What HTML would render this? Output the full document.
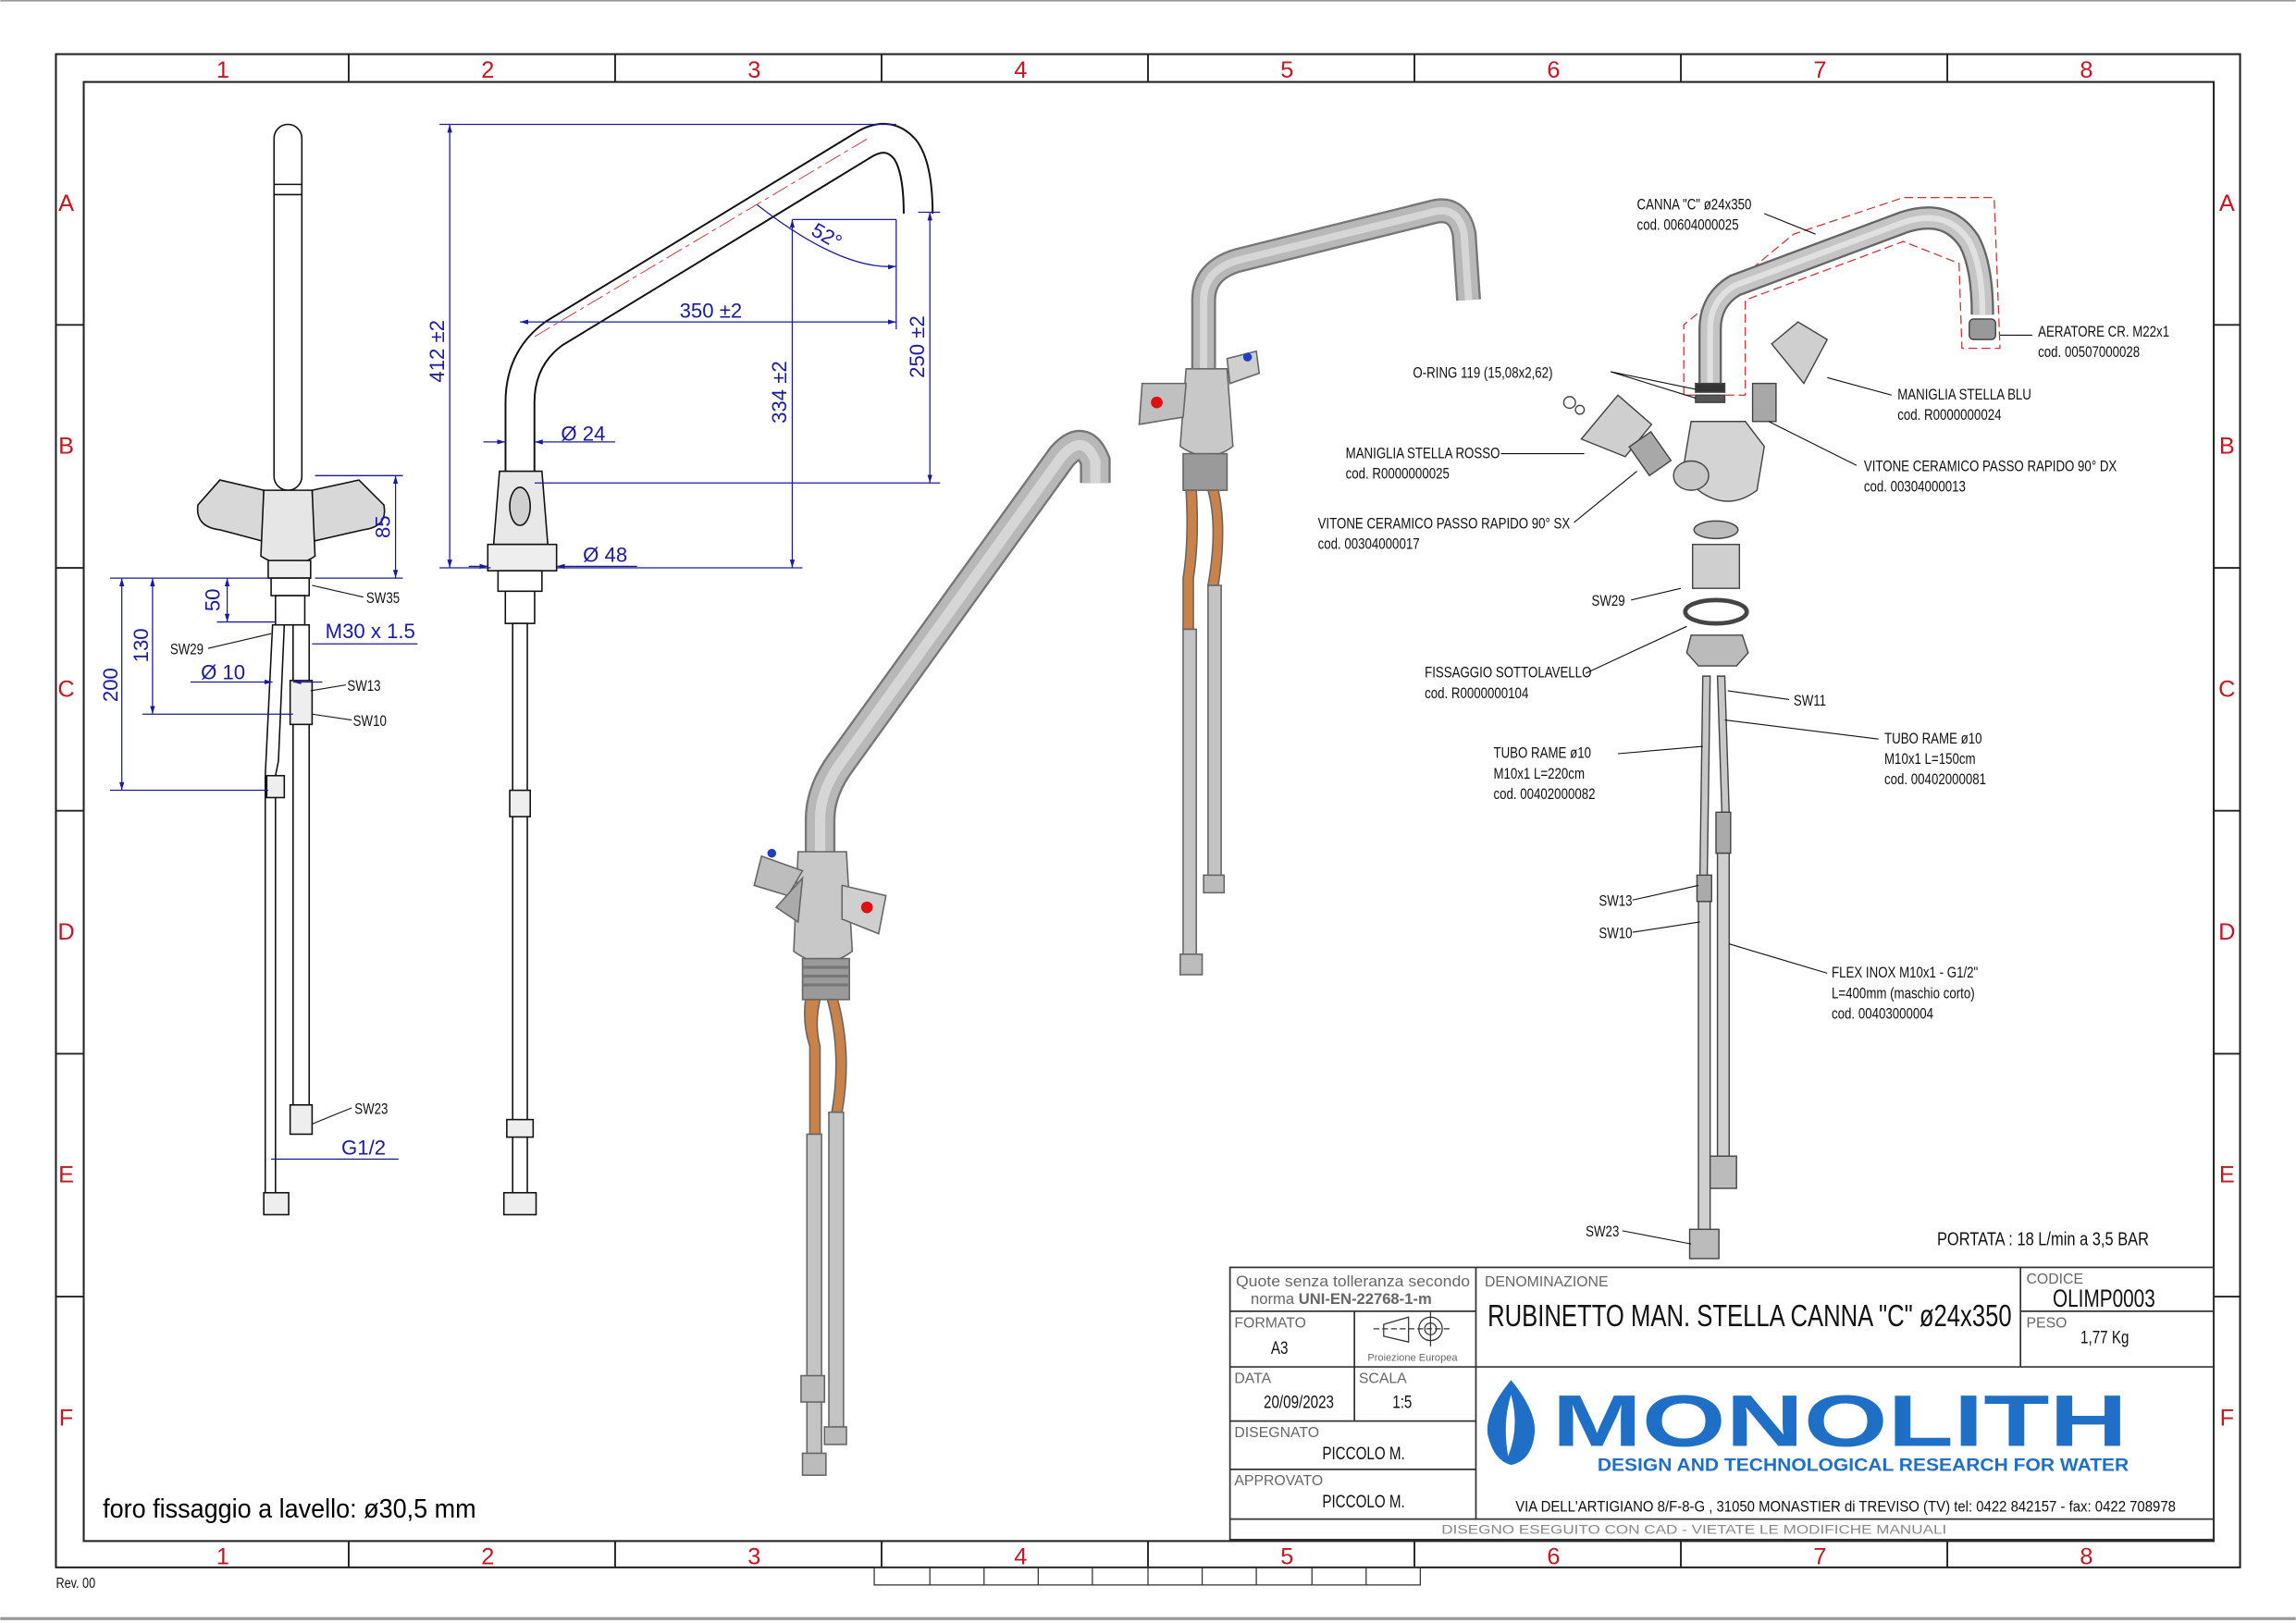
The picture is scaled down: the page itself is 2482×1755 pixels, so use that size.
<!DOCTYPE html>
<html><head><meta charset="utf-8"><style>
html,body{margin:0;padding:0;background:#fff}
svg{display:block}
text{font-family:"Liberation Sans Narrow","Liberation Sans",sans-serif}
.rc{fill:#c8141e;font-size:16px;text-anchor:middle}
.lb text,.cn{font-size:10.5px;fill:#111;transform-box:fill-box;transform-origin:left center;transform:scaleX(0.8)}
.dm{font-size:14px;fill:#1a1aa0}
.tb{font-size:10px;fill:#666;font-family:"Liberation Sans",sans-serif}
</style></head><body>
<svg width="2482" height="1755" viewBox="0 0 1568 1109" xmlns="http://www.w3.org/2000/svg">
<defs>
<marker id="ar" viewBox="0 0 10 10" refX="10" refY="5" markerWidth="7" markerHeight="7" orient="auto-start-reverse"><path d="M0,2 L10,5 L0,8 z" fill="#1a1aa0"/></marker>
<path id="sp2" d="M355,325 L355,275 Q355,245 378,228 L588,100 Q606,88 618,102 Q627,114 627,146" fill="none"/>
<path id="sp3" d="M560,585 L560,560 Q560,540 575,520 L725,312 Q740,295 748,315 L748,330" fill="none"/>
<path id="sp4" d="M822,255 L822,205 Q822,185 845,178 L978,145 Q996,140 1000,160 L1003,205" fill="none"/>
<path id="sp5" d="M1168,262 L1168,225 Q1168,205 1185,195 L1300,152 Q1330,142 1345,165 Q1354,182 1354,215" fill="none"/>
</defs>
<rect width="1568" height="1109" fill="#fff"/>
<line x1="0" y1="0.5" x2="1568" y2="0.5" stroke="#999"/>
<line x1="0" y1="1106" x2="1568" y2="1106" stroke="#999" stroke-width="2"/>
<rect x="38" y="37" width="1492" height="1034" fill="none" stroke="#222" stroke-width="1.3"/>
<rect x="57" y="56" width="1455" height="997" fill="none" stroke="#222" stroke-width="1.3"/>
<g stroke="#222" stroke-width="1.2">
<line x1="238" y1="37" x2="238" y2="56"/><line x1="420" y1="37" x2="420" y2="56"/><line x1="602" y1="37" x2="602" y2="56"/><line x1="784" y1="37" x2="784" y2="56"/><line x1="966" y1="37" x2="966" y2="56"/><line x1="1148" y1="37" x2="1148" y2="56"/><line x1="1330" y1="37" x2="1330" y2="56"/>
<line x1="238" y1="1053" x2="238" y2="1071"/><line x1="420" y1="1053" x2="420" y2="1071"/><line x1="602" y1="1053" x2="602" y2="1071"/><line x1="784" y1="1053" x2="784" y2="1071"/><line x1="966" y1="1053" x2="966" y2="1071"/><line x1="1148" y1="1053" x2="1148" y2="1071"/><line x1="1330" y1="1053" x2="1330" y2="1071"/>
<line x1="38" y1="222" x2="57" y2="222"/><line x1="38" y1="388" x2="57" y2="388"/><line x1="38" y1="554" x2="57" y2="554"/><line x1="38" y1="720" x2="57" y2="720"/><line x1="38" y1="886" x2="57" y2="886"/>
<line x1="1512" y1="222" x2="1530" y2="222"/><line x1="1512" y1="388" x2="1530" y2="388"/><line x1="1512" y1="554" x2="1530" y2="554"/><line x1="1512" y1="720" x2="1530" y2="720"/><line x1="1512" y1="886" x2="1530" y2="886"/>
</g>
<g class="rc">
<text x="152" y="53">1</text><text x="333" y="53">2</text><text x="515" y="53">3</text><text x="697" y="53">4</text><text x="879" y="53">5</text><text x="1061" y="53">6</text><text x="1243" y="53">7</text><text x="1425" y="53">8</text>
<text x="152" y="1069">1</text><text x="333" y="1069">2</text><text x="515" y="1069">3</text><text x="697" y="1069">4</text><text x="879" y="1069">5</text><text x="1061" y="1069">6</text><text x="1243" y="1069">7</text><text x="1425" y="1069">8</text>
<text x="45" y="144">A</text><text x="45" y="310">B</text><text x="45" y="476">C</text><text x="45" y="642">D</text><text x="45" y="808">E</text><text x="45" y="974">F</text>
<text x="1521" y="144">A</text><text x="1521" y="310">B</text><text x="1521" y="476">C</text><text x="1521" y="642">D</text><text x="1521" y="808">E</text><text x="1521" y="974">F</text>
</g>
<text x="38" y="1085" class="cn" style="font-size:10px">Rev. 00</text>
<g fill="none" stroke="#333" stroke-width="0.8"><rect x="597" y="1071" width="373" height="12"/>
<line x1="635" y1="1071" x2="635" y2="1083"/><line x1="672" y1="1071" x2="672" y2="1083"/><line x1="709" y1="1071" x2="709" y2="1083"/><line x1="746" y1="1071" x2="746" y2="1083"/><line x1="784" y1="1071" x2="784" y2="1083"/><line x1="821" y1="1071" x2="821" y2="1083"/><line x1="858" y1="1071" x2="858" y2="1083"/><line x1="896" y1="1071" x2="896" y2="1083"/><line x1="933" y1="1071" x2="933" y2="1083"/></g>

<!-- FRONT VIEW -->
<g stroke="#111" stroke-width="1" fill="#fff">
<rect x="187" y="85" width="19" height="250" rx="9.5"/>
<line x1="187" y1="126" x2="206" y2="126"/><line x1="187" y1="133" x2="206" y2="133"/>
<path d="M180,335 L150,328 L135,345 Q133,360 150,362 L180,370 Z" fill="#d8d8d8"/>
<path d="M213,335 L245,328 L262,345 Q265,360 248,362 L213,370 Z" fill="#d8d8d8"/>
<path d="M180,335 L213,335 L215,380 Q197,392 178,380 Z" fill="#e6e6e6"/>
<rect x="183" y="383" width="29" height="12" fill="#eee"/>
<rect x="185" y="395" width="26" height="12"/>
<rect x="188" y="407" width="20" height="20"/>
<path d="M186,427 L194,427 L190,520 L188,530 L188,820 L181,820 L181,530 Z" fill="#fff"/>
<rect x="200" y="427" width="11" height="335"/>
<rect x="198" y="465" width="15" height="30" fill="#eee"/>
<rect x="182" y="530" width="12" height="15" fill="#eee"/>
<rect x="198" y="755" width="15" height="20" fill="#eee"/>
<rect x="180" y="815" width="17" height="15" fill="#eee"/>
</g>
<g stroke="#1a1aa0" stroke-width="0.8" fill="none">
<line x1="75" y1="395" x2="183" y2="395"/><line x1="75" y1="540" x2="183" y2="540"/><line x1="97" y1="488" x2="200" y2="488"/>
<line x1="83" y1="395" x2="83" y2="540" marker-start="url(#ar)" marker-end="url(#ar)"/>
<line x1="104" y1="395" x2="104" y2="488" marker-start="url(#ar)" marker-end="url(#ar)"/>
<line x1="155" y1="395" x2="155" y2="425" marker-start="url(#ar)" marker-end="url(#ar)"/>
<line x1="148" y1="425" x2="188" y2="425"/>
<line x1="215" y1="325" x2="275" y2="325"/><line x1="215" y1="395" x2="275" y2="395"/>
<line x1="270" y1="325" x2="270" y2="395" marker-start="url(#ar)" marker-end="url(#ar)"/>
<line x1="130" y1="466" x2="186" y2="466" marker-end="url(#ar)"/><line x1="220" y1="466" x2="200" y2="466" marker-end="url(#ar)"/>
<line x1="213" y1="440" x2="285" y2="440"/>
<line x1="185" y1="792" x2="272" y2="792"/>
</g>
<text class="dm" transform="translate(80,468) rotate(-90)" text-anchor="middle">200</text>
<text class="dm" transform="translate(101,441) rotate(-90)" text-anchor="middle">130</text>
<text class="dm" transform="translate(150,410) rotate(-90)" text-anchor="middle">50</text>
<text class="dm" transform="translate(266,360) rotate(-90)" text-anchor="middle">85</text>
<text class="dm" x="222" y="436">M30 x 1.5</text>
<text class="dm" x="137" y="464">Ø 10</text>
<text class="dm" x="233" y="789">G1/2</text>
<g stroke="#111" stroke-width="0.7"><line x1="213" y1="400" x2="248" y2="408"/><line x1="142" y1="443" x2="185" y2="433"/><line x1="212" y1="472" x2="236" y2="468"/><line x1="213" y1="488" x2="240" y2="492"/><line x1="213" y1="768" x2="240" y2="757"/></g>
<g class="lb"><text x="250" y="412">SW35</text><text x="116" y="447">SW29</text><text x="237" y="472">SW13</text><text x="241" y="496">SW10</text><text x="242" y="761">SW23</text></g>

<!-- SIDE VIEW -->
<use href="#sp2" stroke="#111" stroke-width="21"/><use href="#sp2" stroke="#fff" stroke-width="18.5"/>
<g stroke="#111" stroke-width="1" fill="#fff">
<path d="M341,322 L370,322 L374,372 L337,372 Z" fill="#e8e8e8"/>
<ellipse cx="355" cy="346" rx="7" ry="13" fill="#d0d0d0"/>
<rect x="333" y="372" width="47" height="18" fill="#eee"/>
<rect x="340" y="390" width="30" height="14"/>
<rect x="345" y="404" width="20" height="22"/>
<rect x="350" y="426" width="10" height="395"/>
<rect x="348" y="540" width="14" height="18" fill="#eee"/>
<rect x="346" y="765" width="18" height="12" fill="#eee"/>
<rect x="344" y="815" width="22" height="15" fill="#eee"/>
</g>
<g stroke="#1a1aa0" stroke-width="0.8" fill="none">
<line x1="300" y1="85" x2="612" y2="85"/>
<line x1="300" y1="388" x2="335" y2="388"/><line x1="380" y1="388" x2="548" y2="388"/>
<line x1="307" y1="85" x2="307" y2="388" marker-start="url(#ar)" marker-end="url(#ar)"/>
<line x1="355" y1="220" x2="612" y2="220" marker-start="url(#ar)" marker-end="url(#ar)"/>
<line x1="612" y1="150" x2="612" y2="225"/><line x1="627" y1="145" x2="642" y2="145"/>
<line x1="365" y1="330" x2="642" y2="330"/>
<line x1="635" y1="145" x2="635" y2="330" marker-start="url(#ar)" marker-end="url(#ar)"/>
<line x1="541" y1="150" x2="541" y2="388" marker-start="url(#ar)" marker-end="url(#ar)"/>
<line x1="541" y1="150" x2="612" y2="150"/>
<line x1="330" y1="302" x2="345" y2="302" marker-end="url(#ar)"/><line x1="380" y1="302" x2="365" y2="302" marker-end="url(#ar)"/><line x1="380" y1="302" x2="420" y2="302"/>
<line x1="320" y1="387" x2="333" y2="387" marker-end="url(#ar)"/><line x1="392" y1="387" x2="380" y2="387" marker-end="url(#ar)"/><line x1="392" y1="387" x2="435" y2="387"/>
<path d="M517,140 Q575,185 612,182" marker-end="url(#ar)"/>
</g>
<line x1="365" y1="230" x2="592" y2="95" stroke="#c33" stroke-width="0.6" stroke-dasharray="12,3,3,3"/>
<text class="dm" transform="translate(303,240) rotate(-90)" text-anchor="middle">412 ±2</text>
<text class="dm" x="464" y="217">350 ±2</text>
<text class="dm" transform="translate(631,237) rotate(-90)" text-anchor="middle">250 ±2</text>
<text class="dm" transform="translate(537,268) rotate(-90)" text-anchor="middle">334 ±2</text>
<text class="dm" transform="translate(553,160) rotate(30)">52°</text>
<text class="dm" x="383" y="301">Ø 24</text>
<text class="dm" x="398" y="384">Ø 48</text>

<!-- 3D VIEW 1 -->
<use href="#sp3" stroke="#777" stroke-width="21"/><use href="#sp3" stroke="#b8b8b8" stroke-width="18"/><use href="#sp3" stroke="#d6d6d6" stroke-width="7"/>
<g stroke="#666" stroke-width="1">
<path d="M545,582 L578,582 L582,650 Q562,665 542,650 Z" fill="#c8c8c8"/>
<path d="M548,595 L520,585 L515,605 L538,612 Z" fill="#bdbdbd"/>
<path d="M575,605 L605,612 L600,638 L575,628 Z" fill="#cfcfcf"/>
<path d="M548,600 L530,620 L545,630 Z" fill="#aaa"/>
<rect x="548" y="655" width="32" height="28" fill="#9a9a9a"/>
<path d="M550,683 Q548,700 553,715 L553,775 L560,775 L560,715 Q556,700 560,683 Z" fill="#c8824a"/>
<path d="M565,683 Q575,720 568,760 L575,760 Q582,720 572,683 Z" fill="#c8824a"/>
<rect x="551" y="775" width="10" height="225" fill="#c4c4c4"/>
<rect x="566" y="760" width="10" height="220" fill="#c4c4c4"/>
<rect x="547" y="940" width="16" height="18" fill="#bbb"/>
<rect x="548" y="993" width="16" height="15" fill="#bbb"/>
<rect x="563" y="975" width="15" height="12" fill="#bbb"/>
</g>
<g fill="#777"><rect x="548" y="660" width="32" height="2"/><rect x="548" y="666" width="32" height="2"/><rect x="548" y="672" width="32" height="2"/></g>
<circle cx="592" cy="620" r="4" fill="#e01010"/><circle cx="527" cy="583" r="3" fill="#2040c0"/>

<!-- 3D VIEW 2 -->
<use href="#sp4" stroke="#777" stroke-width="17"/><use href="#sp4" stroke="#b8b8b8" stroke-width="14"/><use href="#sp4" stroke="#d6d6d6" stroke-width="5"/>
<g stroke="#666" stroke-width="1">
<path d="M810,252 L838,252 L842,305 Q825,318 806,305 Z" fill="#c8c8c8"/>
<path d="M810,262 L780,262 L778,290 L808,285 Z" fill="#c0c0c0"/>
<path d="M838,245 L858,240 L860,255 L840,262 Z" fill="#cfcfcf"/>
<rect x="808" y="310" width="30" height="25" fill="#9a9a9a"/>
<path d="M810,335 Q812,370 808,395 L808,430 L815,430 L815,395 Q819,370 817,335 Z" fill="#c8824a"/>
<path d="M825,335 Q832,360 825,400 L832,400 Q838,360 832,335 Z" fill="#c8824a"/>
<rect x="808" y="430" width="9" height="225" fill="#c4c4c4"/>
<rect x="825" y="400" width="9" height="200" fill="#c4c4c4"/>
<rect x="806" y="652" width="15" height="14" fill="#bbb"/>
<rect x="822" y="598" width="14" height="12" fill="#bbb"/>
</g>
<circle cx="790" cy="275" r="4" fill="#e01010"/><circle cx="852" cy="244" r="3" fill="#2040c0"/>

<!-- EXPLODED -->
<path d="M1150,270 L1150,222 L1225,160 L1300,135 L1362,135 L1366,238 L1340,238 L1338,180 L1300,165 L1192,205 L1192,270 Z" fill="none" stroke="#c33" stroke-width="0.8" stroke-dasharray="6,3"/>
<use href="#sp5" stroke="#666" stroke-width="16"/><use href="#sp5" stroke="#c4c4c4" stroke-width="13"/><use href="#sp5" stroke="#e0e0e0" stroke-width="4"/>
<g stroke="#444" stroke-width="0.9">
<rect x="1345" y="218" width="18" height="14" rx="3" fill="#999"/>
<rect x="1158" y="262" width="20" height="6" fill="#333"/><rect x="1158" y="270" width="20" height="5" fill="#555"/>
<path d="M1210,235 L1228,220 L1248,232 L1232,262 Z" fill="#cfcfcf"/>
<rect x="1197" y="262" width="16" height="26" fill="#a8a8a8"/>
<path d="M1080,300 L1105,270 L1128,290 L1110,312 Z" fill="#cfcfcf"/>
<circle cx="1072" cy="275" r="4" fill="#fff"/><circle cx="1079" cy="280" r="3" fill="#fff"/>
<rect x="1118" y="298" width="18" height="24" fill="#a8a8a8" transform="rotate(-35 1127 310)"/>
<path d="M1155,288 L1192,288 L1205,305 L1200,335 Q1180,350 1160,335 L1150,318 Z" fill="#d4d4d4"/>
<ellipse cx="1155" cy="325" rx="12" ry="10" fill="#c8c8c8"/>
<ellipse cx="1172" cy="362" rx="15" ry="6" fill="#bbb"/>
<rect x="1156" y="372" width="32" height="30" fill="#cfcfcf"/>
<ellipse cx="1172" cy="418" rx="21" ry="8" fill="#fff" stroke-width="3"/>
<path d="M1155,434 L1190,434 L1194,446 L1186,455 L1160,455 L1152,446 Z" fill="#bbb"/>
<path d="M1163,462 L1168,462 L1166,600 L1161,600 Z" fill="#c8c8c8"/>
<path d="M1173,462 L1178,462 L1181,555 L1176,555 Z" fill="#c8c8c8"/>
<rect x="1159" y="598" width="10" height="18" fill="#aaa"/>
<rect x="1172" y="555" width="10" height="28" fill="#aaa"/>
<rect x="1160" y="616" width="8" height="225" fill="#d0d0d0"/>
<rect x="1173" y="583" width="8" height="210" fill="#d0d0d0"/>
<rect x="1168" y="790" width="18" height="22" fill="#bbb"/>
<rect x="1154" y="840" width="20" height="20" fill="#bbb"/>
</g>
<g stroke="#111" stroke-width="0.7" fill="none">
<line x1="1205" y1="146" x2="1240" y2="160"/><line x1="1366" y1="229" x2="1388" y2="229"/>
<path d="M1100,254 L1158,266 M1100,254 L1158,272"/>
<line x1="1248" y1="258" x2="1292" y2="270"/><line x1="1025" y1="310" x2="1082" y2="310"/>
<line x1="1208" y1="288" x2="1268" y2="318"/><line x1="1075" y1="357" x2="1118" y2="322"/>
<line x1="1114" y1="410" x2="1148" y2="402"/><line x1="1083" y1="460" x2="1152" y2="428"/>
<line x1="1180" y1="472" x2="1222" y2="478"/><line x1="1105" y1="515" x2="1163" y2="510"/>
<line x1="1283" y1="505" x2="1178" y2="492"/><line x1="1115" y1="615" x2="1160" y2="605"/>
<line x1="1115" y1="637" x2="1161" y2="630"/><line x1="1248" y1="665" x2="1181" y2="645"/>
<line x1="1108" y1="841" x2="1155" y2="850"/>
</g>
<g class="lb">
<text x="1118" y="143">CANNA "C" ø24x350</text><text x="1118" y="157">cod. 00604000025</text>
<text x="1392" y="230">AERATORE CR. M22x1</text><text x="1392" y="244">cod. 00507000028</text>
<text x="965" y="258">O-RING 119 (15,08x2,62)</text>
<text x="1296" y="273">MANIGLIA STELLA BLU</text><text x="1296" y="287">cod. R0000000024</text>
<text x="919" y="313">MANIGLIA STELLA ROSSO</text><text x="919" y="327">cod. R0000000025</text>
<text x="1273" y="322">VITONE CERAMICO PASSO RAPIDO 90° DX</text><text x="1273" y="336">cod. 00304000013</text>
<text x="900" y="361">VITONE CERAMICO PASSO RAPIDO 90° SX</text><text x="900" y="375">cod. 00304000017</text>
<text x="1087" y="414">SW29</text>
<text x="973" y="463">FISSAGGIO SOTTOLAVELLO</text><text x="973" y="477">cod. R0000000104</text>
<text x="1225" y="482">SW11</text>
<text x="1020" y="518">TUBO RAME ø10</text><text x="1020" y="532">M10x1 L=220cm</text><text x="1020" y="546">cod. 00402000082</text>
<text x="1287" y="508">TUBO RAME ø10</text><text x="1287" y="522">M10x1 L=150cm</text><text x="1287" y="536">cod. 00402000081</text>
<text x="1092" y="619">SW13</text><text x="1092" y="641">SW10</text>
<text x="1251" y="668">FLEX INOX M10x1 - G1/2"</text><text x="1251" y="682">L=400mm (maschio corto)</text><text x="1251" y="696">cod. 00403000004</text>
<text x="1083" y="845">SW23</text>
<text x="1323" y="851" style="font-size:13px">PORTATA : 18 L/min a 3,5 BAR</text>
</g>
<text x="70" y="1037" style="font-size:18px;font-family:'Liberation Sans',sans-serif" textLength="255" lengthAdjust="spacingAndGlyphs">foro fissaggio a lavello: ø30,5 mm</text>

<!-- TITLE BLOCK -->
<g stroke="#333" stroke-width="1.1" fill="none">
<rect x="840" y="866" width="672" height="186"/>
<line x1="1008" y1="866" x2="1008" y2="1038"/><line x1="1380" y1="866" x2="1380" y2="934"/>
<line x1="840" y1="896" x2="1008" y2="896"/><line x1="840" y1="934" x2="1512" y2="934"/>
<line x1="840" y1="971" x2="1008" y2="971"/><line x1="840" y1="1004" x2="1008" y2="1004"/>
<line x1="840" y1="1038" x2="1512" y2="1038"/><line x1="925" y1="896" x2="925" y2="971"/>
<line x1="1380" y1="896" x2="1512" y2="896"/>
</g>
<g class="tb">
<text x="924" y="879" text-anchor="middle" style="font-size:10.5px" textLength="160" lengthAdjust="spacingAndGlyphs">Quote senza tolleranza secondo</text>
<text x="916" y="891" text-anchor="middle" style="font-size:10.5px">norma <tspan font-weight="bold">UNI-EN-22768-1-m</tspan></text>
<text x="843" y="907">FORMATO</text><text x="843" y="945">DATA</text><text x="928" y="945">SCALA</text>
<text x="843" y="982">DISEGNATO</text><text x="843" y="1015">APPROVATO</text>
<text x="1014" y="879">DENOMINAZIONE</text><text x="1384" y="877">CODICE</text><text x="1384" y="907">PESO</text>
<text x="934" y="930" style="font-size:7px">Proiezione Europea</text>
<text x="1157" y="1048" text-anchor="middle" style="font-size:9px;fill:#888" textLength="345" lengthAdjust="spacingAndGlyphs">DISEGNO ESEGUITO CON CAD  - VIETATE LE MODIFICHE MANUALI</text>
</g>
<g stroke="#333" stroke-width="0.8" fill="none">
<path d="M945,905 L962,900 L962,917 L945,913 Z"/><circle cx="977" cy="908" r="8"/><circle cx="977" cy="908" r="4"/>
<line x1="938" y1="908" x2="990" y2="908" stroke-dasharray="4,2"/><line x1="977" y1="896" x2="977" y2="920"/>
</g>
<g style="fill:#111">
<text x="868" y="925" class="cn" style="font-size:12px">A3</text>
<text x="863" y="962" class="cn" style="font-size:12px">20/09/2023</text>
<text x="951" y="962" class="cn" style="font-size:12px">1:5</text>
<text x="903" y="997" class="cn" style="font-size:12px">PICCOLO M.</text>
<text x="903" y="1030" class="cn" style="font-size:12px">PICCOLO M.</text>
<text x="1016" y="906" style="font-size:21px" textLength="358" lengthAdjust="spacingAndGlyphs">RUBINETTO MAN. STELLA  CANNA "C" ø24x350</text>
<text x="1402" y="893" style="font-size:17px" textLength="70" lengthAdjust="spacingAndGlyphs">OLIMP0003</text>
<text x="1421" y="918" class="cn" style="font-size:12px">1,77 Kg</text>
<text x="1035" y="1033" style="font-size:10.5px;font-family:'Liberation Sans',sans-serif" textLength="451" lengthAdjust="spacingAndGlyphs">VIA DELL'ARTIGIANO 8/F-8-G , 31050 MONASTIER di TREVISO (TV) tel: 0422 842157 - fax: 0422 708978</text>
</g>
<path d="M1032,943 Q1014,965 1016,980 Q1020,998 1032,1001 Q1046,998 1048,980 Q1050,965 1032,943 Z" fill="#1f6fc6"/>
<path d="M1032,953 Q1026,972 1030,995 Q1038,975 1032,953 Z" fill="#fff"/>
<text x="1060" y="988" style="font-size:50px;font-weight:bold;fill:#1f6fc6;font-family:'Liberation Sans',sans-serif" textLength="393" lengthAdjust="spacingAndGlyphs">MONOLITH</text>
<text x="1091" y="1005" style="font-size:12px;font-weight:bold;fill:#1f6fc6;font-family:'Liberation Sans',sans-serif" textLength="363" lengthAdjust="spacingAndGlyphs">DESIGN AND TECHNOLOGICAL RESEARCH FOR WATER</text>
</svg>
</body></html>
